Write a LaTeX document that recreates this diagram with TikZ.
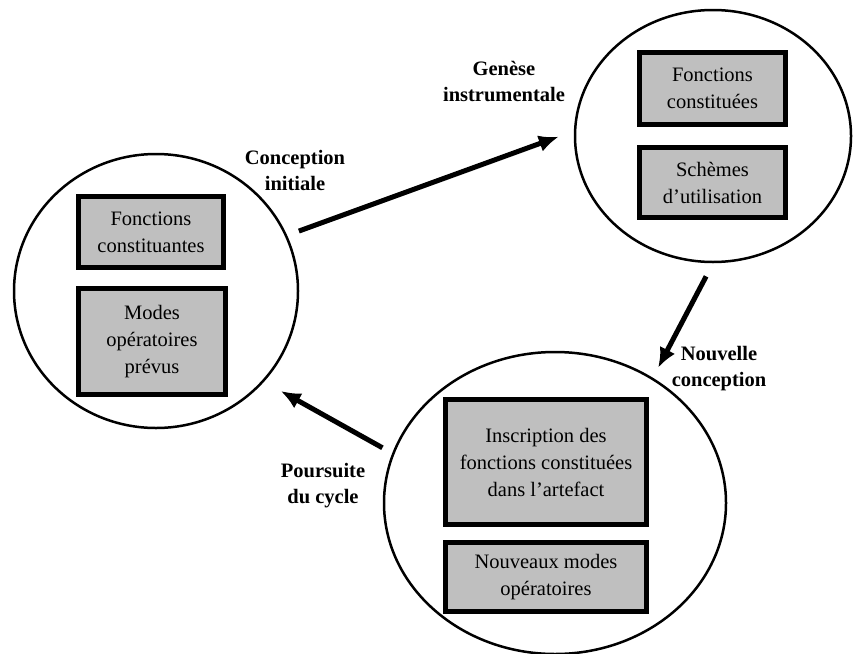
\documentclass[tikz,border=0pt]{standalone}
\usepackage{fontspec}
\setmainfont{Liberation Serif}
\usetikzlibrary{arrows.meta,shapes,positioning}
\tikzset{
    phase/.style={
        ellipse,
        line width=2.5pt,
        draw=black,
        inner sep=0pt,
    },
    bloc/.style={
        rectangle,
        line width=4.6pt,
        draw=black,
        fill=black!25,
        align=center,
        inner sep=2pt,
        font=\fontsize{20.5}{27}\selectfont,
    },
    etiquette/.style={
        align=center,
        font=\fontsize{20.5}{26}\selectfont\bfseries,
    },
    fleche/.style={
        line width=5pt,
        -{Latex[length=20pt,width=17pt]},
    },
}
\begin{document}
\begin{tikzpicture}[x=1pt,y=-1pt]
    \useasboundingbox (0,0) rectangle (853,653);
    \node [phase, minimum width=284, minimum height=274] (C0) at (156,291) {};
    \node [phase, minimum width=276, minimum height=252] (C1) at (713,136) {};
    \node [phase, minimum width=342, minimum height=302] (C2) at (555,503) {};
    \node [bloc, minimum width=145, minimum height=71] (F0) at (151,232) {Fonctions\\constituantes};
    \node [bloc, minimum width=147, minimum height=106] (M0) at (152,341.5) {Modes\\opératoires\\prévus};
    \node [bloc, minimum width=146, minimum height=72] (F1) at (712.5,88.5) {Fonctions\\constituées};
    \node [bloc, minimum width=146, minimum height=70] (S1) at (712.5,182.5) {Schèmes\\d’utilisation};
    \node [bloc, minimum width=201, minimum height=125] (I2) at (546,462) {Inscription des\\fonctions constituées\\dans l’artefact};
    \node [bloc, minimum width=201, minimum height=69] (N2) at (546,577) {Nouveaux modes\\opératoires};
    \node [etiquette] (L01) at (295,170) {Conception\\initiale};
    \node [etiquette] (L12) at (504,82) {Genèse\\instrumentale};
    \node [etiquette] (L23) at (719,369) {Nouvelle\\conception};
    \node [etiquette] (L30) at (323,486) {Poursuite\\du cycle};
    \draw [fleche, shorten <=12.5pt, shorten >=16pt] (C0.23.7) -- (C1.178.2);
    \draw [fleche, shorten <=14.8pt, shorten >=11.2pt] (C1.270.5) -- (C2.52.6);
    \draw [fleche, shorten <=11.2pt, shorten >=19pt] (C2.163.7) -- (C0.320.3);
\end{tikzpicture}
\end{document}
